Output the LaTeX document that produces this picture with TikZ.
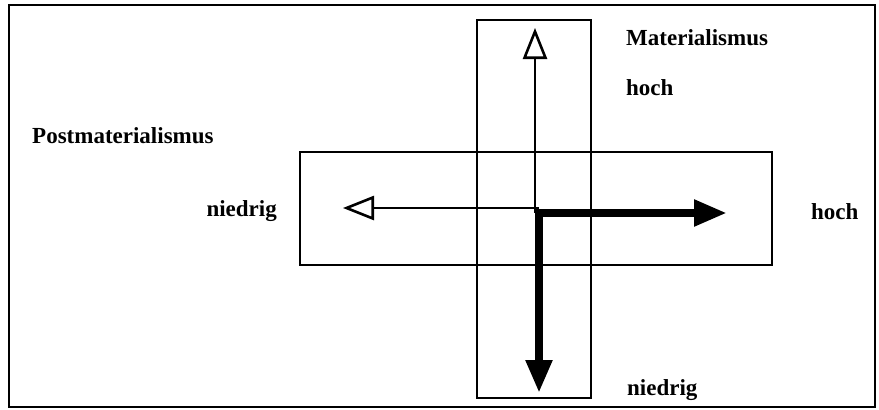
\documentclass[tikz,border=0pt]{standalone}
\usepackage{fontspec}
\setmainfont{Liberation Serif}
\usetikzlibrary{arrows.meta}
\begin{document}
\begin{tikzpicture}[x=1pt,y=-1pt,
  frame/.style={draw, line width=1.3pt},
  box/.style={draw, line width=1.1pt},
  thinarrow/.style={line width=1.2pt, -{Triangle[open, length=31pt, width=24pt, line width=2.6pt]}},
  thickarrow/.style={line width=8pt, line join=miter, {Triangle[length=33pt, width=25pt]}-{Triangle[length=33pt, width=25pt]}},
  lab/.style={font=\bfseries\fontsize{23}{25}\selectfont, inner sep=0pt}]
\useasboundingbox (0,0) rectangle (879,410);
\fill[white] (0,0) rectangle (879,410);
\draw[frame] (9,5) rectangle (875,407);
\draw[box] (477,20) rectangle (591,398);
\draw[box] (300,152) rectangle (772,265);
\coordinate (c) at (539,213);
\coordinate (vc) at (535,213);
\coordinate (hc) at (539,208);
\coordinate (up) at (535,28);
\coordinate (left) at (343,208);
\coordinate (right) at (727,213);
\coordinate (down) at (539,393);
\draw[thinarrow] (vc) -- (up);
\draw[thinarrow] (hc) -- (left);
\draw[thickarrow] (right) -- (c) -- (down);
\node[lab, anchor=west] (mat) at (626,38) {Materialismus};
\node[lab, anchor=west] (hochA) at (626,88) {hoch};
\node[lab, anchor=west] (post) at (32,136) {Postmaterialismus};
\node[lab, anchor=east] (nied1) at (277,211) {niedrig};
\node[lab, anchor=west] (hochB) at (811,212) {hoch};
\node[lab, anchor=west] (nied2) at (627,390) {niedrig};
\end{tikzpicture}
\end{document}
